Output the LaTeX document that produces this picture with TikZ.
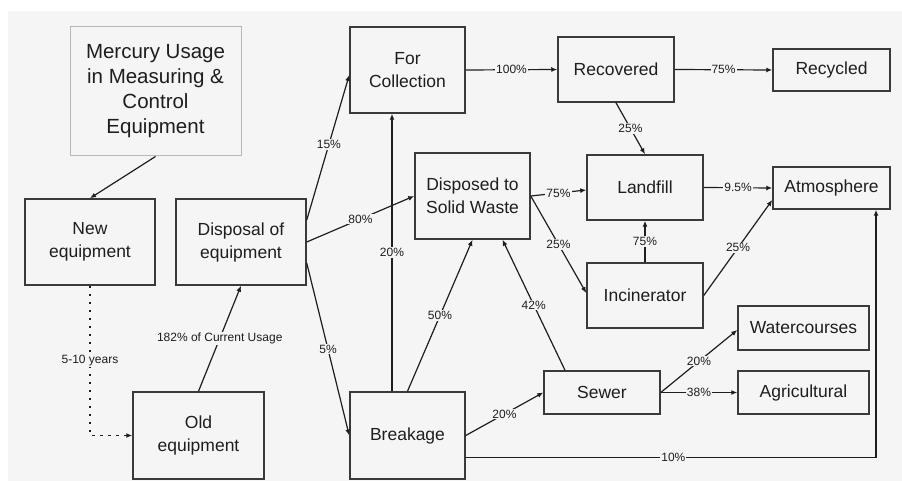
\documentclass[tikz,border=0pt]{standalone}
\usepackage{fontspec}
\setmainfont{Liberation Sans}
\usetikzlibrary{arrows.meta,calc}
\definecolor{bg}{HTML}{F5F5F5}
\definecolor{ink}{HTML}{1E1E1E}
\definecolor{edge}{HTML}{3A3A3A}
\definecolor{soft}{HTML}{B8B8B8}

\begin{document}
\begin{tikzpicture}[x=1pt,y=-1pt,
  box/.style={draw=edge, line width=1.5pt, fill=bg, inner sep=0pt, align=center,
    text=ink, font=\fontsize{17.5}{23}\selectfont},
  flow/.style={draw=ink, line width=1.2pt, -{Latex[length=6pt,width=5pt]}},
  pct/.style={fill=bg, inner sep=1pt, text=ink, font=\fontsize{12}{13}\selectfont},
]
\useasboundingbox (0,0) rectangle (902,481);
\fill[bg] (8,11) rectangle (902,481);

% boxes
\node[box, draw=soft, line width=1pt, minimum width=171pt, minimum height=129pt,
  font=\fontsize{20.5}{25}\selectfont] (merc) at (155.5,91.5)
  {Mercury Usage\\in Measuring \&\\Control\\Equipment};
\node[box, minimum width=130pt, minimum height=86pt] (neweq) at (90,242) {New\\equipment};
\node[box, minimum width=130pt, minimum height=86pt] (dispeq) at (241,242) {Disposal of\\equipment};
\node[box, minimum width=131pt, minimum height=87pt] (oldeq) at (198.5,435.5) {Old\\equipment};
\node[box, minimum width=115pt, minimum height=86pt] (coll) at (407.5,70) {For\\Collection};
\node[box, minimum width=116pt, minimum height=65pt] (recov) at (616,69.5) {Recovered};
\node[box, minimum width=117pt, minimum height=42pt] (recyc) at (831.5,70) {Recycled};
\node[box, minimum width=115pt, minimum height=86pt] (solid) at (472.5,196) {Disposed to\\Solid Waste};
\node[box, minimum width=116pt, minimum height=65pt] (landf) at (645,187.5) {Landfill};
\node[box, minimum width=117pt, minimum height=42pt] (atmos) at (831.5,188) {Atmosphere};
\node[box, minimum width=116pt, minimum height=65pt] (incin) at (645,295.5) {Incinerator};
\node[box, minimum width=116pt, minimum height=43pt] (sewer) at (602,392.5) {Sewer};
\node[box, minimum width=131pt, minimum height=44pt] (water) at (803.5,328) {Watercourses};
\node[box, minimum width=131pt, minimum height=43pt] (agri) at (803.5,392.5) {Agricultural};
\node[box, minimum width=115pt, minimum height=87pt] (break) at (407.5,435.5) {Breakage};

% flows
\draw[flow] (merc.south) -- (neweq.north);
\draw[flow, dash pattern=on 2.5pt off 5.5pt] (neweq.south) |- node[pct, pos=0.25]{5-10 years} (oldeq.west);
\draw[flow] (oldeq.north) -- node[pct]{182\% of Current Usage} (dispeq.south);
\draw[flow] ([yshift=22pt]dispeq.east) -- node[pct, pos=0.52]{15\%} ([yshift=-5pt]coll.west);
\draw[flow] (dispeq.east) -- node[pct]{80\%} (solid.west);
\draw[flow] ([yshift=-21pt]dispeq.east) -- node[pct]{5\%} (break.west);
\draw[flow] ([xshift=-15.5pt]break.north) -- node[pct]{20\%} ([xshift=-15.5pt]coll.south);
\draw[flow] (break.north) -- node[pct]{50\%} (solid.south);
\draw[flow] ([xshift=-37pt]sewer.north) -- node[pct]{42\%} ([xshift=30pt]solid.south);
\draw[flow] (break.east) -- node[pct]{20\%} (sewer.west);
\draw[flow] ([yshift=-22pt]break.east) -| node[pct, pos=0.253]{10\%} ([xshift=44.5pt]atmos.south);
\draw[flow] (coll.east) -- node[pct]{100\%} (recov.west);
\draw[flow] (recov.east) -- node[pct]{75\%} (recyc.west);
\draw[flow] (recov.south) -- node[pct]{25\%} (landf.north);
\draw[flow] (solid.east) -- node[pct]{75\%} ([yshift=-2.5pt]landf.west);
\draw[flow] (solid.east) -- node[pct]{25\%} ([yshift=2.5pt]incin.west);
\draw[flow] (incin.north) -- node[pct]{75\%} (landf.south);
\draw[flow] (landf.east) -- node[pct]{9.5\%} (atmos.west);
\draw[flow] (incin.east) -- node[pct]{25\%} ([yshift=-12pt]atmos.west);
\draw[flow] (sewer.east) -- node[pct]{20\%} ([yshift=-2pt]water.west);
\draw[flow] (sewer.east) -- node[pct]{38\%} (agri.west);
\end{tikzpicture}
\end{document}
